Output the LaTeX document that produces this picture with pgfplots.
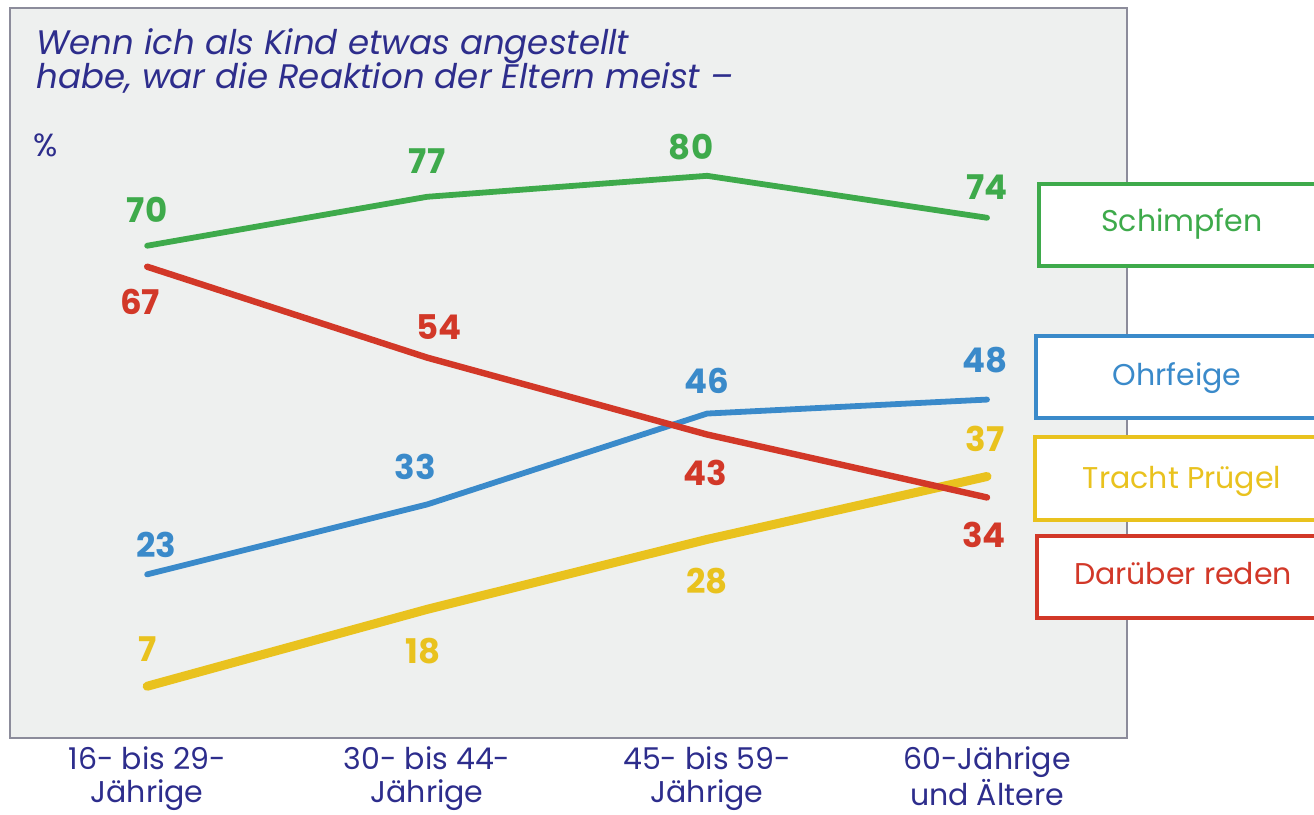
\documentclass[border=0pt]{standalone}
\usepackage{fontspec}
\setmainfont{Poppins}
\usepackage{pgfplots}
\usepackage{pgfplotstable}
\pgfplotsset{compat=1.18}

\definecolor{cgreen}{RGB}{62,170,75}
\definecolor{cred}{RGB}{210,56,40}
\definecolor{cblue}{RGB}{58,138,202}
\definecolor{cyellow}{RGB}{233,194,30}
\definecolor{navy}{RGB}{45,45,140}
\definecolor{bgcol}{RGB}{238,240,239}
\definecolor{bordercol}{RGB}{140,140,155}

% x y dx dy  (dx, dy = label offset in pt)
\pgfplotstableread{
x y dx dy
0 70 0 18
1 77 0 18
2 80 -8 14.5
3 74 0 15.5
}\schimpfen
\pgfplotstableread{
x y dx dy
0 67 -3.5 -17.5
1 54 6 15.5
2 43 -1 -19
3 34 -1.5 -18.5
}\reden
\pgfplotstableread{
x y dx dy
0 23 4.5 14.5
1 33 -6 19
2 46 0 16.5
3 48 -1 19.5
}\ohrfeige
\pgfplotstableread{
x y dx dy
0 7 0 18.5
1 18 -2 -21
2 28 0 -21
3 37 -1 19
}\pruegel

\pgfplotsset{
  vals/.style={
    line cap=round, line join=round,
    nodes near coords, point meta=explicit symbolic,
    visualization depends on={\thisrow{dx} \as \dx},
    visualization depends on={\thisrow{dy} \as \dy},
    nodes near coords style={anchor=center, inner sep=0pt,
      xshift=\dx pt, yshift=\dy pt,
      font=\bfseries\fontsize{17}{17}\selectfont, text=#1},
  },
}

\begin{document}
\begin{tikzpicture}
\useasboundingbox (0,0) rectangle (657pt,407.5pt);
\begin{axis}[
    at={(5pt,38.5pt)}, anchor=south west,
    scale only axis, width=558.5pt, height=365pt,
    xmin=-0.49, xmax=3.5, ymin=-0.4, ymax=104,
    axis background/.style={fill=bgcol},
    axis line style={draw=bordercol, line width=1pt},
    ytick=\empty,
    xtick={0,1,2,3},
    xticklabels={16- bis 29-\\Jährige, 30- bis 44-\\Jährige,
                 45- bis 59-\\Jährige, 60-Jährige\\und Ältere},
    major tick length=0pt,
    xticklabel style={align=center, anchor=north, inner sep=0pt, yshift=-4pt,
      font=\fontsize{15}{16.8}\selectfont, text=navy},
    clip=false,
  ]
  \addplot[cyellow, line width=4.5pt, vals=cyellow] table[x=x, y=y, meta=y] {\pruegel};
  \addplot[cblue, line width=2.9pt, vals=cblue] table[x=x, y=y, meta=y] {\ohrfeige};
  \addplot[cgreen, line width=2.9pt, vals=cgreen] table[x=x, y=y, meta=y] {\schimpfen};
  \addplot[cred, line width=3.2pt, vals=cred] table[x=x, y=y, meta=y] {\reden};
\end{axis}

% overlay text and legend boxes in pixel units of the reference
\begin{scope}[x=0.5pt, y=-0.5pt, shift={(0,407.5pt)}]
  \node[anchor=base west, inner sep=0pt, text=navy, font=\itshape\fontsize{17}{17}\selectfont]
    at (36,55) {Wenn ich als Kind etwas angestellt};
  \node[anchor=base west, inner sep=0pt, text=navy, font=\itshape\fontsize{17}{17}\selectfont]
    at (36,89) {habe, war die Reaktion der Eltern meist –};
  \node[anchor=base west, inner sep=0pt, text=navy, font=\fontsize{16}{16}\selectfont]
    at (33,157) {\%};

  \draw[cgreen, line width=2pt, fill=white] (1039,184) rectangle (1340,266);
  \node[text=cgreen, font=\fontsize{15}{15}\selectfont] at (1182,224) {Schimpfen};
  \draw[cblue, line width=2pt, fill=white] (1036,336) rectangle (1340,418);
  \node[text=cblue, font=\fontsize{15}{15}\selectfont] at (1177,378) {Ohrfeige};
  \draw[cyellow, line width=2pt, fill=white] (1035,437) rectangle (1340,520);
  \node[text=cyellow, font=\fontsize{15}{15}\selectfont] at (1182,481) {Tracht Prügel};
  \draw[cred, line width=2pt, fill=white] (1037,536) rectangle (1340,618);
  \node[text=cred, font=\fontsize{15}{15}\selectfont] at (1183,574) {Darüber reden};
\end{scope}
\end{tikzpicture}
\end{document}
